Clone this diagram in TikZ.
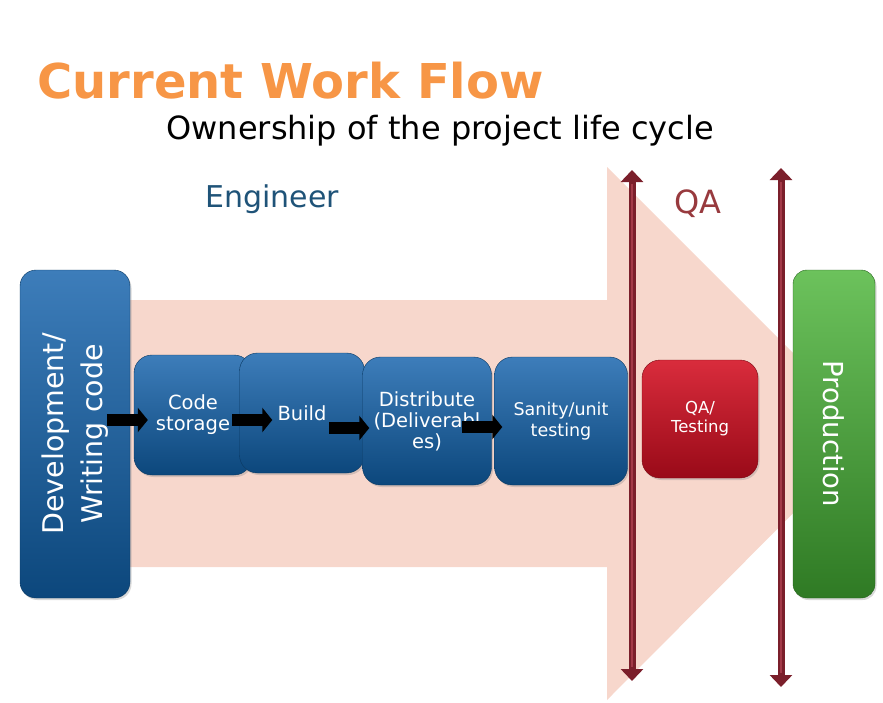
\documentclass[tikz,border=0pt]{standalone}
\usepackage{fontspec}
\setmainfont{DejaVu Sans}
\usetikzlibrary{positioning}
\usetikzlibrary{calc}
\usetikzlibrary{shadows}
\usetikzlibrary{arrows.meta}
\definecolor{bandpink}{HTML}{F7D7CC}
\definecolor{titleorange}{HTML}{F79646}
\definecolor{engblue}{HTML}{1F5378}
\definecolor{qared}{HTML}{983A3E}
\definecolor{boxtop}{HTML}{3D7DBA}
\definecolor{boxbot}{HTML}{0C477C}
\definecolor{redtop}{HTML}{D92C3C}
\definecolor{redbot}{HTML}{990A18}
\definecolor{greentop}{HTML}{6CC25C}
\definecolor{greenbot}{HTML}{2F7A24}
\definecolor{barred}{HTML}{7B1F2B}
\definecolor{barlight}{HTML}{A33A48}
\tikzset{
    stepbox/.style={
           rectangle,
           rounded corners=18pt,
           top color=boxtop, bottom color=boxbot,
           draw=boxbot!80!black, thin,
           text=white,
           align=center,
           inner sep=2pt,
           drop shadow={opacity=0.3,shadow xshift=1.5pt,shadow yshift=-2pt},
           font=\fontsize{19.5}{21}\selectfont
           },
    qabox/.style={
           stepbox,
           top color=redtop, bottom color=redbot,
           draw=redbot!80!black,
           font=\fontsize{16.5}{19}\selectfont
           },
    prodbox/.style={
           stepbox,
           top color=greentop, bottom color=greenbot,
           draw=greenbot!80!black,
           font=\fontsize{27.5}{30}\selectfont
           },
    blockarrow/.style={
           line width=12pt,
           draw=black,
           -{Triangle[length=10pt,width=24pt]}
           },
    phasebar/.style={
           line width=7pt,
           draw=barred,
           {Triangle[length=12pt,width=22pt]}-{Triangle[length=12pt,width=22pt]}
           },
    barstripe/.style={
           line width=1.4pt,
           draw=barlight,
           shorten <=14pt, shorten >=14pt
           },
}

\begin{document}
\begin{tikzpicture}[x=1pt, y=-1pt, node distance=100pt, on grid]
  \useasboundingbox (0,0) rectangle (883,702);
  % big background arrow
  \fill[bandpink] (130,300) -- (607,300) -- (607,167) -- (873,433)
      -- (607,700) -- (607,567) -- (130,567) -- cycle;

  % headings
  \node[anchor=base west, text=titleorange, font=\fontsize{48}{52}\selectfont\bfseries]
      (title) at (34,98) {Current Work Flow};
  \node[anchor=base west, font=\fontsize{32}{36}\selectfont]
      (sub) at (163,139) {Ownership of the project life cycle};
  \node[anchor=base west, text=engblue, font=\fontsize{30}{34}\selectfont]
      (eng) at (202,207) {Engineer};
  \node[anchor=base west, text=qared, font=\fontsize{32}{36}\selectfont]
      (qa) at (671,213) {QA};

  % phase bars
  \coordinate (qatop)   at (632,170);
  \coordinate (qabot)   at (632,681);
  \coordinate (prodtop) at (781,168);
  \coordinate (prodbot) at (781,687);
  \draw[phasebar] (qatop) -- (qabot);
  \draw[barstripe] (qatop) -- (qabot);
  \draw[phasebar] (prodtop) -- (prodbot);
  \draw[barstripe] (prodtop) -- (prodbot);

  % steps
  \node[stepbox, minimum width=110pt, minimum height=328pt, rounded corners=16pt,
        font=\fontsize{28.5}{40}\selectfont]
      (dev) at (75,434) {\rotatebox{90}{\begin{tabular}{@{}c@{}}Development/\\Writing code\end{tabular}}};
  \node[stepbox, minimum width=118pt, minimum height=120pt]
      (store) [right=118pt of dev, yshift=19pt] {Code\\storage};
  \node[stepbox, minimum width=125pt, minimum height=120pt]
      (build) [right=109pt of store, yshift=2pt] {Build};
  \node[stepbox, minimum width=129pt, minimum height=128pt]
      (dist) [right=125pt of build, yshift=-8pt] {Distribute\\(Deliverabl\\es)};
  \node[stepbox, minimum width=133pt, minimum height=128pt, font=\fontsize{17.5}{21}\selectfont]
      (sanity) [right=134pt of dist] {Sanity/unit\\testing};
  \node[qabox, minimum width=116pt, minimum height=118pt]
      (qatest) [right=139pt of sanity, yshift=2pt] {QA/\\Testing};
  \node[prodbox, minimum width=82pt, minimum height=328pt, rounded corners=14pt]
      (prod) [right=134pt of qatest, yshift=-15pt] {\rotatebox{-90}{Production}};

  % hand-offs
  \draw[blockarrow] ($(store.west)+(-27,5)$)  -- ($(store.west)+(14,5)$);
  \draw[blockarrow] ($(build.west)+(-7,7)$)   -- ($(build.west)+(33,7)$);
  \draw[blockarrow] ($(dist.west)+(-33,7)$)   -- ($(dist.west)+(7,7)$);
  \draw[blockarrow] ($(sanity.west)+(-32,6)$) -- ($(sanity.west)+(8,6)$);
\end{tikzpicture}
\end{document}
